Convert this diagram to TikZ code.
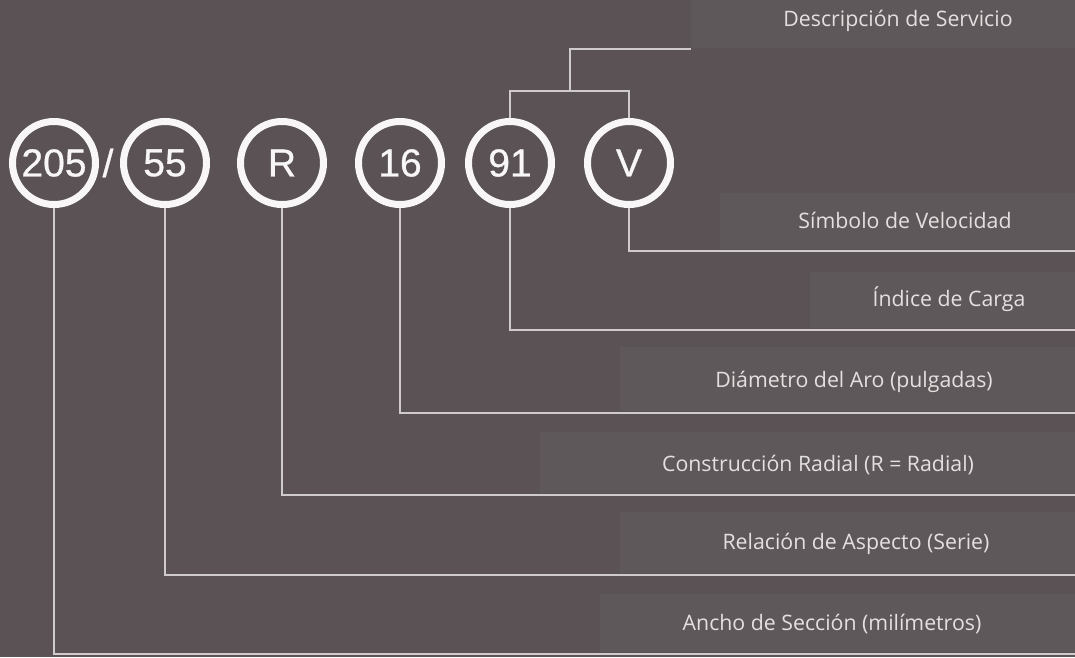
\documentclass[tikz,border=0pt]{standalone}
\usepackage{fontspec}
\setmainfont{Open Sans}
\newfontfamily\numfont{Liberation Sans}[FakeBold=0.8]
\usetikzlibrary{positioning}
\definecolor{bgdark}{HTML}{5A5254}
\definecolor{bgband}{HTML}{5F585A}
\definecolor{ringwhite}{HTML}{F8F6F6}
\definecolor{linegray}{HTML}{CFCACB}
\definecolor{labelgray}{HTML}{E4E0E0}

\begin{document}
\begin{tikzpicture}[
  x=1pt,y=-1pt,
  ring/.style={circle,draw=ringwhite,line width=7pt,minimum size=83pt,inner sep=0pt,text=ringwhite,font=\numfont\fontsize{39}{39}\selectfont},
  lbl/.style={text=labelgray,inner sep=0pt,font=\fontsize{21.3}{23}\selectfont},
  lead/.style={draw=linegray,line width=1.3pt},
  band/.style={fill=bgband,draw=none}
]
\fill[bgdark] (0,0) rectangle (1075,657);
\useasboundingbox (0,0) rectangle (1075,657);

\fill[band] (691,0) rectangle (1075,48);
\fill[band] (720,193) rectangle (1075,249);
\fill[band] (810,272) rectangle (1075,328);
\fill[band] (620,347) rectangle (1075,411);
\fill[band] (540,432) rectangle (1075,493);
\fill[band] (620,512) rectangle (1075,573);
\fill[band] (600,594) rectangle (1075,652);

\node[ring] (n205) at (54,163) {205};
\node[text=ringwhite,font=\numfont\fontsize{39}{39}\selectfont,inner sep=0pt] (slash) at (108,163) {/};
\node[ring] (n55) at (165,163) {55};
\node[ring] (nR) at (282,163) {R};
\node[ring] (n16) at (400,163) {16};
\node[ring] (n91) at (510,163) {91};
\node[ring] (nV) at (629,163) {V};

\node[lbl] (lServ) at (898,21) {Descripción de Servicio};
\node[lbl] (lVel) at (905,220) {Símbolo de Velocidad};
\node[lbl] (lCarga) at (949,299) {Índice de Carga};
\node[lbl] (lAro) at (854,382) {Diámetro del Aro (pulgadas)};
\node[lbl] (lRad) at (818,465) {Construcción Radial (R = Radial)};
\node[lbl] (lSerie) at (856,544) {Relación de Aspecto (Serie)};
\node[lbl] (lAncho) at (832,624) {Ancho de Sección (milímetros)};

\coordinate (jServ) at (570,91);
\coordinate (eServ) at (691,49);
\coordinate (eVel) at (1075,251);
\coordinate (eCarga) at (1075,330);
\coordinate (eAro) at (1075,413);
\coordinate (eRad) at (1075,495);
\coordinate (eSerie) at (1075,575);
\coordinate (eAncho) at (1075,654);

\draw[lead] (n91.north) |- (jServ) -| (nV.north);
\draw[lead] (jServ) |- (eServ);
\draw[lead] (nV.south) |- (eVel);
\draw[lead] (n91.south) |- (eCarga);
\draw[lead] (n16.south) |- (eAro);
\draw[lead] (nR.south) |- (eRad);
\draw[lead] (n55.south) |- (eSerie);
\draw[lead] (n205.south) |- (eAncho);
\end{tikzpicture}
\end{document}
